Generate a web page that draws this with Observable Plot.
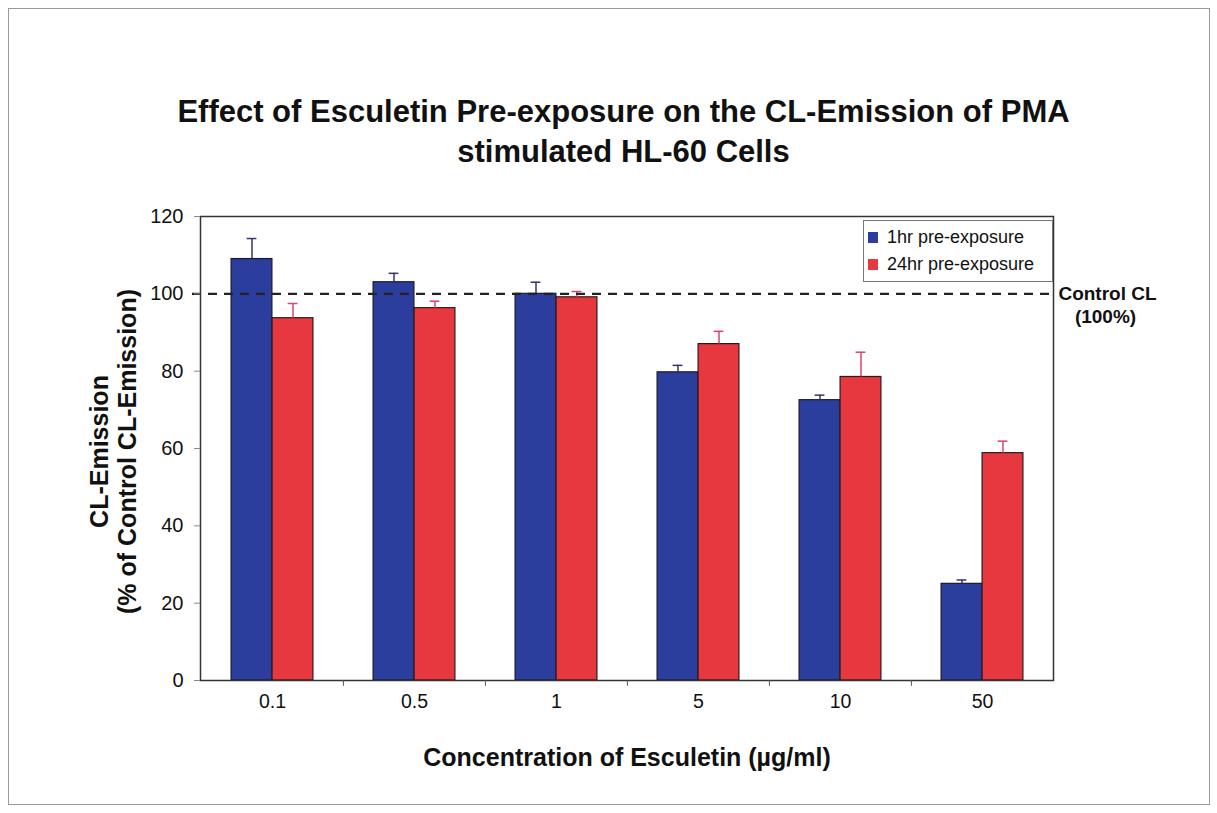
<!DOCTYPE html>
<html>
<head>
<meta charset="utf-8">
<script src="https://cdn.jsdelivr.net/npm/d3@7"></script>
<script src="https://cdn.jsdelivr.net/npm/@observablehq/plot@0.6"></script>
<style>
  html, body { margin: 0; padding: 0; background: #fff; }
  #wrap { position: relative; width: 1217px; height: 813px; overflow: hidden; font-family: "Liberation Sans", Arial, sans-serif; }
  #border { position: absolute; left: 8px; top: 8px; width: 1202px; height: 797px; border: 1px solid #9a9a9a; box-sizing: border-box; }
  #title { position: absolute; left: 0; top: 92px; width: 1217px; padding-left: 30px; box-sizing: border-box; text-align: center; font-weight: bold; font-size: 31px; line-height: 40px; color: #111; }
  #chart { position: absolute; left: 0; top: 0; }
  #legend { position: absolute; left: 863px; top: 220px; width: 190px; height: 62px; border: 1px solid #777; background: #fff; box-sizing: border-box; padding: 3px 0 0 4px; font-size: 18px; color: #111; }
  #legend .row { display: flex; align-items: center; height: 27px; }
  #legend .sw { width: 10px; height: 11px; margin-right: 9px; }
</style>
</head>
<body>
<div id="wrap">
  <div id="border"></div>
  <div id="chart"></div>
  <div id="title">Effect of Esculetin Pre-exposure on the CL-Emission of PMA<br>stimulated HL-60 Cells</div>
  <div id="legend"></div>
</div>
<script>
// ---- data ----
const concentrations = ["0.1", "0.5", "1", "5", "10", "50"];
const seriesNames = ["1hr pre-exposure", "24hr pre-exposure"];
const oneHr = [109, 103, 100, 79.7, 72.5, 25];
const oneHrErr = [5.3, 2.3, 3, 1.8, 1.3, 1];
const twentyFourHr = [93.7, 96.3, 99.1, 87, 78.5, 58.8];
const twentyFourHrErr = [3.8, 1.8, 1.5, 3.3, 6.4, 3.1];
const yTicks = [0, 20, 40, 60, 80, 100, 120];
const controlLevel = 100;
const seriesColors = ["#2b3d9d", "#e8383f"];
const errColors = ["#34346e", "#d9456c"];

// ---- table ----
const rows = concentrations.flatMap((c, i) => [
  {conc: c, series: seriesNames[0], value: oneHr[i], err: oneHrErr[i]},
  {conc: c, series: seriesNames[1], value: twentyFourHr[i], err: twentyFourHrErr[i]}
]);
const blue = rows.filter(d => d.series === seriesNames[0]);
const red = rows.filter(d => d.series === seriesNames[1]);

// ---- layout ----
const W = 1217, H = 813, ML = 200, MR = 164, MT = 216, MB = 133;
const bw = (W - ML - MR) / concentrations.length;
const barW = 41;
const cap = 5;

const chart = Plot.plot({
  width: W, height: H,
  marginLeft: ML, marginRight: MR, marginTop: MT, marginBottom: MB,
  style: {fontFamily: "'Liberation Sans', Arial, sans-serif", background: "transparent", overflow: "visible", color: "#111"},
  x: {domain: concentrations, padding: 0, axis: null},
  y: {domain: [0, 120], axis: null},
  marks: [
    Plot.barY(blue, {x: "conc", y: "value", fill: seriesColors[0], stroke: "#1b1b2a", strokeWidth: 1.2,
      insetLeft: bw / 2 - barW, insetRight: bw / 2}),
    Plot.barY(red, {x: "conc", y: "value", fill: seriesColors[1], stroke: "#2a1b1b", strokeWidth: 1.2,
      insetLeft: bw / 2, insetRight: bw / 2 - barW}),
    Plot.ruleX(blue, {x: "conc", y1: "value", y2: d => d.value + d.err, dx: -barW / 2, stroke: errColors[0], strokeWidth: 1.5}),
    Plot.ruleX(red, {x: "conc", y1: "value", y2: d => d.value + d.err, dx: barW / 2, stroke: errColors[1], strokeWidth: 1.5}),
    Plot.tickY(blue, {x: "conc", y: d => d.value + d.err, stroke: errColors[0], strokeWidth: 1.5,
      insetLeft: bw / 2 - barW / 2 - cap, insetRight: bw / 2 + barW / 2 - cap}),
    Plot.tickY(red, {x: "conc", y: d => d.value + d.err, stroke: errColors[1], strokeWidth: 1.5,
      insetLeft: bw / 2 + barW / 2 - cap, insetRight: bw / 2 - barW / 2 - cap}),
    Plot.ruleY([controlLevel], {stroke: "#222", strokeWidth: 2.2, strokeDasharray: "9,7", insetLeft: -8}),
    Plot.frame({stroke: "#333", strokeWidth: 1.5}),
    Plot.ruleX(concentrations.slice(1), {x: d => d, y1: 0, y2: -1.5, dx: -bw / 2, stroke: "#555"}),
    Plot.axisY({ticks: yTicks, tickSize: 6, tickPadding: 11, fontSize: 20, label: null, stroke: "#888"}),
    Plot.axisX({tickSize: 0, tickPadding: 14, fontSize: 19.5, label: null}),
    Plot.text([controlLevel], {y: d => d, text: () => "Control CL", frameAnchor: "right", dx: 54, dy: 0, textAnchor: "middle", fontWeight: "bold", fontSize: 19}),
    Plot.text([controlLevel], {y: d => d, text: () => "(100%)", frameAnchor: "right", dx: 52, dy: 23, textAnchor: "middle", fontWeight: "bold", fontSize: 19}),
    Plot.text(["CL-Emission"], {text: d => d, frameAnchor: "left", textAnchor: "middle", rotate: -90, dx: -101, dy: 3, fontWeight: "bold", fontSize: 25}),
    Plot.text(["(% of Control CL-Emission)"], {text: d => d, frameAnchor: "left", textAnchor: "middle", rotate: -90, dx: -73, dy: 3, fontWeight: "bold", fontSize: 25}),
    Plot.text(["Concentration of Esculetin (µg/ml)"], {text: d => d, frameAnchor: "bottom", dy: 85, fontWeight: "bold", fontSize: 25})
  ]
});
document.getElementById("chart").appendChild(chart);

const legend = document.getElementById("legend");
seriesNames.forEach((s, i) => {
  const row = document.createElement("div");
  row.className = "row";
  const sw = document.createElement("span");
  sw.className = "sw";
  sw.style.background = seriesColors[i];
  const t = document.createElement("span");
  t.textContent = s;
  row.appendChild(sw); row.appendChild(t);
  legend.appendChild(row);
});
</script>
</body>
</html>
